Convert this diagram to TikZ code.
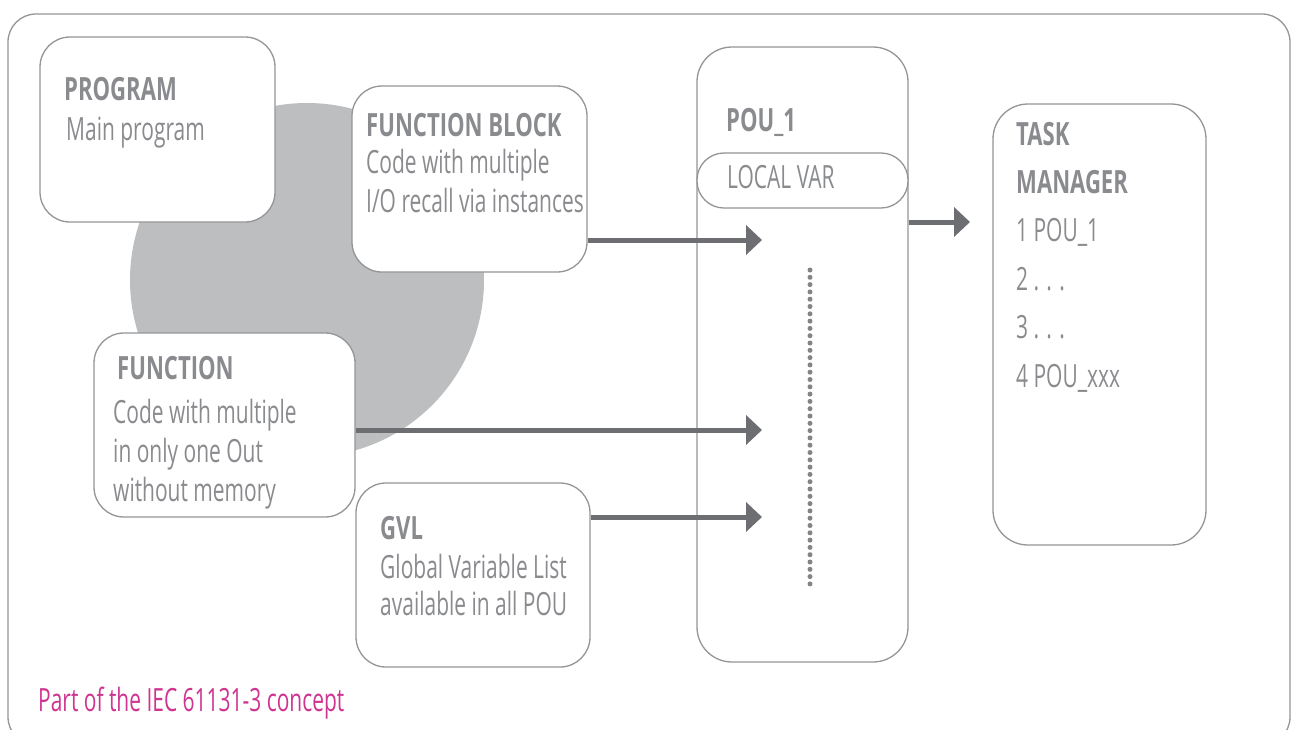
\documentclass[tikz,border=0pt]{standalone}
\usepackage{fontspec}
\setmainfont{Open Sans}[FakeStretch=0.655, BoldFeatures={FakeStretch=0.69}]
\usetikzlibrary{arrows.meta}
\definecolor{txtgray}{HTML}{8A8B8E}
\definecolor{linegray}{HTML}{939598}
\definecolor{arrgray}{HTML}{6D6E71}
\definecolor{circgray}{HTML}{BCBEC0}
\definecolor{dotgray}{HTML}{838487}
\definecolor{pink}{HTML}{CF3590}
\tikzset{
  box/.style={draw=linegray, line width=1.3pt, fill=white, rounded corners=30pt, inner sep=0pt},
  txt/.style={anchor=base west, inner sep=0pt, text=txtgray, font=\fontsize{32}{38}\selectfont},
  hd/.style={txt, font=\fontsize{32}{38}\selectfont\bfseries},
  arr/.style={draw=arrgray, line width=5pt, -{Triangle[length=16pt,width=29pt]}},
  frame/.style={draw=linegray, line width=1.3pt, rounded corners=28pt},
  dotline/.style={draw=dotgray, line width=5pt, line cap=round, dash pattern=on 0pt off 7.3pt}
}
\begin{document}
\begin{tikzpicture}[x=1pt,y=-1pt]
\useasboundingbox (0,0) rectangle (1291,729);
\draw[frame] (8,14) rectangle (1290,745);
\fill[circgray] (307,280) circle[radius=177pt];
% boxes
\node[box, minimum width=235pt, minimum height=185pt] (prog) at (157.5,129.5) {};
\node[box, minimum width=235pt, minimum height=186pt] (fb) at (469.5,179) {};
\node[box, minimum width=261pt, minimum height=184pt] (func) at (224.5,425) {};
\node[box, minimum width=234pt, minimum height=184pt] (gvl) at (473,575) {};
\node[box, rounded corners=35pt, minimum width=211pt, minimum height=615pt] (pou) at (802.5,354.5) {};
\node[box, rounded corners=27pt, minimum width=211pt, minimum height=55pt] (lvar) at (802.5,180.5) {};
\node[box, rounded corners=35pt, minimum width=213pt, minimum height=441pt] (task) at (1099.5,324.5) {};
% texts
\node[hd] (progh) at (64,100) {PROGRAM};
\node[txt] (prog1) at (66,140) {Main program};
\node[hd] (fbh) at (366,136) {FUNCTION BLOCK};
\node[txt] (fb1) at (366,173) {Code with multiple};
\node[txt] (fb2) at (366,212) {I/O recall via instances};
\node[hd] (funch) at (117,379) {FUNCTION};
\node[txt] (func1) at (113,423) {Code with multiple};
\node[txt] (func2) at (113,462) {in only one Out};
\node[txt] (func3) at (113,501) {without memory};
\node[hd] (gvlh) at (380,539) {GVL};
\node[txt] (gvl1) at (380,578) {Global Variable List};
\node[txt] (gvl2) at (380,615) {available in all POU};
\node[hd] (pouh) at (726,131) {POU\_1};
\node[txt] (lvart) at (727,188) {LOCAL VAR};
\node[hd] (taskh1) at (1016,145) {TASK};
\node[hd] (taskh2) at (1016,193) {MANAGER};
\node[txt] (task1) at (1016,241) {1 POU\_1};
\node[txt] (task2) at (1016,290) {2 . . .};
\node[txt] (task3) at (1016,338) {3 . . .};
\node[txt] (task4) at (1016,387) {4 POU\_xxx};
\node[txt, text=pink] (note) at (38,711) {Part of the IEC 61131-3 concept};
% dotted line
\coordinate (d1) at (810,270);
\coordinate (d2) at (810,588);
\draw[dotline] (d1) -- (d2);
% arrows
\coordinate (t1) at (762,240);
\coordinate (t2) at (762,430);
\coordinate (t3) at (762,517);
\coordinate (t4) at (970,222);
\draw[arr] (fb.east |- t1) -- (t1);
\draw[arr] (func.east |- t2) -- (t2);
\draw[arr] (gvl.east |- t3) -- (t3);
\draw[arr] (pou.east |- t4) -- (t4);
\end{tikzpicture}
\end{document}
